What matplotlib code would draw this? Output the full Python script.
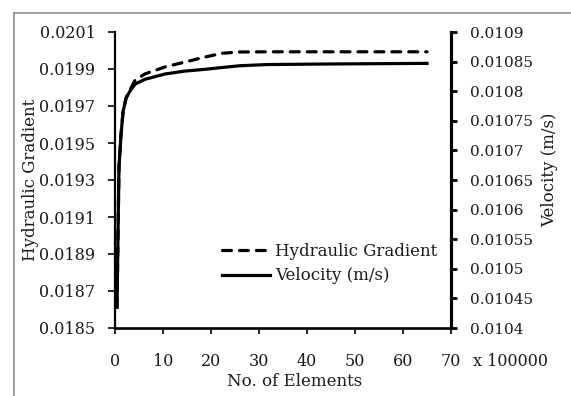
import matplotlib
matplotlib.use("Agg")
import matplotlib.pyplot as plt
from matplotlib.lines import Line2D

plt.rcParams['font.family'] = ['DejaVu Serif']
plt.rcParams['font.size'] = 12
plt.rcParams['text.color'] = '#1a1a1a'

# no. of elements (x 100000)
elements = [0.42, 0.63, 0.83, 1.25, 1.67, 2.3, 3.1, 4.2, 6.2, 10.4,
            14.6, 18.8, 22.3, 26.0, 31.7, 45.0, 65.0]
# hydraulic gradient (left axis)
gradient = [0.018613, 0.019013, 0.019370, 0.019543, 0.019667, 0.019743,
            0.019786, 0.019840, 0.019873, 0.019911, 0.019938, 0.019965,
            0.019985, 0.019992, 0.019993, 0.019993, 0.019993]
# velocity m/s (right axis)
velocity = [0.010435, 0.010560, 0.010672, 0.010726, 0.010765, 0.010788,
            0.010800, 0.010812, 0.010820, 0.010829, 0.010834, 0.010837,
            0.010840, 0.010843, 0.010845, 0.010846, 0.010847]

left_ticks = [0.0185, 0.0187, 0.0189, 0.0191, 0.0193, 0.0195, 0.0197, 0.0199, 0.0201]
left_labels = ['0.0185', '0.0187', '0.0189', '0.0191', '0.0193', '0.0195',
               '0.0197', '0.0199', '0.0201']
right_ticks = [0.0104, 0.01045, 0.0105, 0.01055, 0.0106, 0.01065, 0.0107,
               0.01075, 0.0108, 0.01085, 0.0109]
right_labels = ['0.0104', '0.01045', '0.0105', '0.01055', '0.0106', '0.01065',
                '0.0107', '0.01075', '0.0108', '0.01085', '0.0109']
x_ticks = [0, 10, 20, 30, 40, 50, 60, 70]

W, H = 571, 396
fig = plt.figure(figsize=(W/100, H/100), dpi=100)
ax = fig.add_axes([115/W, 1-328/H, 336/W, 296/H])
ax2 = ax.twinx()

l1, = ax.plot(elements, gradient, color='black', lw=2.3, dashes=(2.8, 2.5),
              dash_capstyle='round', label='Hydraulic Gradient')
l2, = ax2.plot(elements, velocity, color='black', lw=2.3, label='Velocity (m/s)')

ax.set_xlim(0, 70)
ax.set_ylim(0.0185, 0.0201)
ax2.set_ylim(0.0104, 0.0109)
ax.set_xticks(x_ticks)
ax.set_xticklabels([str(t) for t in x_ticks])
ax.set_yticks(left_ticks)
ax.set_yticklabels(left_labels)
ax2.set_yticks(right_ticks)
ax2.set_yticklabels(right_labels)

for a in (ax, ax2):
    a.spines['top'].set_visible(False)
ax.spines['right'].set_visible(False)
ax2.spines['left'].set_visible(False)
ax2.spines['bottom'].set_visible(False)
ax.spines['left'].set_linewidth(1.6)
ax.spines['bottom'].set_linewidth(1.9)
ax2.spines['right'].set_linewidth(2.3)

ax.tick_params(axis='x', direction='out', length=4, width=1.2, pad=14,
               labelcolor='#1a1a1a', labelsize=11.5)
ax.tick_params(axis='y', direction='out', length=5, width=1.2, pad=9,
               labelcolor='#1a1a1a', labelsize=11.5)
ax2.tick_params(axis='y', direction='out', length=4.5, width=2, pad=9,
                labelcolor='#1a1a1a', labelsize=11)

fig.text(31/W, 1-180/H, 'Hydraulic Gradient', rotation=90, ha='center', va='center')
fig.text(550/W, 1-170/H, 'Velocity (m/s)', rotation=90, ha='center', va='center')
fig.text(295/W, 1-381/H, 'No. of Elements', ha='center', va='center')
fig.text(473/W, 1-362/H, 'x 100000', ha='left', va='center', fontsize=11.5)

ax.legend(handles=[l1, l2], loc='upper left', bbox_to_anchor=((222-115)/336, (328-243)/296),
          frameon=False, borderpad=0, borderaxespad=0, handlelength=2.9,
          handletextpad=0.3, labelspacing=0.45, fontsize=12)

# outer chart border (gray)
fig.add_artist(Line2D([13.5/W, 13.5/W], [0, 1-12.5/H], color='#8c8c8c', lw=1.2,
                      transform=fig.transFigure))
fig.add_artist(Line2D([13.5/W, 1], [1-12.5/H, 1-12.5/H], color='#8c8c8c', lw=1.2,
                      transform=fig.transFigure))

fig.savefig('out.png', dpi=100)
